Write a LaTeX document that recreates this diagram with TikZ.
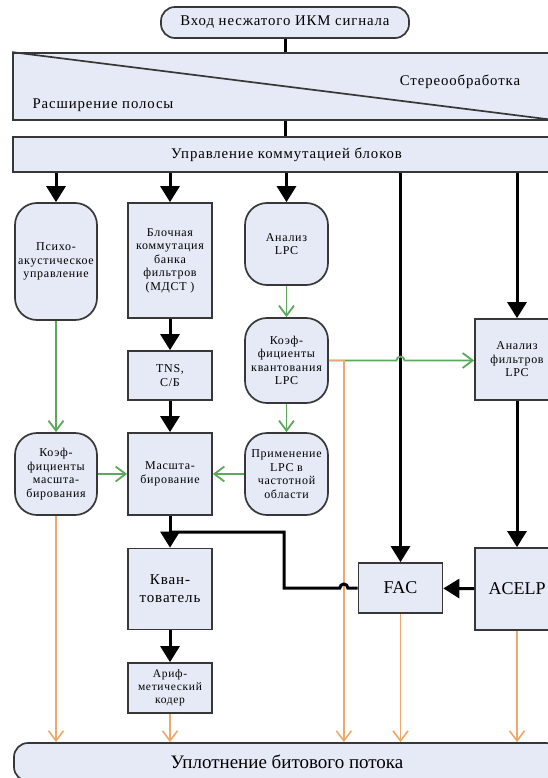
\documentclass[tikz,border=0pt]{standalone}
\usepackage{fontspec}
\setmainfont{Liberation Serif}
\newfontfamily\boxfont[LetterSpace=6]{Liberation Serif}
\usetikzlibrary{arrows.meta,calc}

\definecolor{boxfill}{RGB}{229,234,246}
\definecolor{boxline}{RGB}{55,55,55}
\definecolor{siggreen}{RGB}{92,168,92}
\definecolor{sigorange}{RGB}{238,168,106}

\tikzset{
  blk/.style={draw=boxline, line width=1.7pt, fill=boxfill, inner sep=0pt,
    align=center, font=\boxfont\fontsize{12}{13.5}\selectfont},
  rnd/.style={blk, rounded corners=22pt},
  pill/.style={blk, rounded corners=14pt},
  head/.style={font=\boxfont\fontsize{14.8}{16}\selectfont},
  big/.style={font=\fontsize{18}{20}\selectfont},
  main/.style={line width=3pt, -{Triangle[length=16pt,width=19pt]}},
  mainline/.style={line width=3pt},
  grn/.style={draw=siggreen, line width=1.8pt, -{Straight Barb[length=10pt,width=15pt]}},
  org/.style={draw=sigorange, line width=1.6pt, -{Straight Barb[length=10pt,width=15pt]}},
}

\begin{document}
\begin{tikzpicture}[x=1pt,y=-1pt]
    \useasboundingbox (0,0) rectangle (547,778);
    \node[pill, head, minimum width=248pt, minimum height=31pt] (in) at (285,22.5)
      {Вход несжатого ИКМ сигнала};
    \node[blk, minimum width=547pt, minimum height=67pt] (stereo) at (286.5,86.5) {};
    \draw[boxline, line width=1.7pt] (stereo.north west) -- (stereo.south east);
    \node[head] (stlbl) at (460,82) {Стереообработка};
    \node[head] (bwlbl) at (103,105) {Расширение полосы};
    \node[blk, head, minimum width=547pt, minimum height=35pt] (ctrl) at (286.5,154.5)
      {Управление коммутацией блоков};

    \node[rnd, minimum width=82pt, minimum height=117pt] (psycho) at (56,261.5)
      {Психо-\\акустическое\\управление};
    \node[blk, minimum width=84pt, minimum height=115pt] (block) at (170,260.5)
      {Блочная\\коммутация\\банка\\фильтров\\(МДСТ )};
    \node[rnd, minimum width=83pt, minimum height=82pt] (alpc) at (286.5,244)
      {Анализ\\LPC};
    \node[blk, minimum width=84pt, minimum height=49pt] (tns) at (170,375.5)
      {TNS,\\С/Б};
    \node[rnd, minimum width=83pt, minimum height=85pt] (kkv) at (286.5,360.5)
      {Коэф-\\фициенты\\квантования\\LPC};
    \node[rnd, minimum width=82pt, minimum height=82pt] (kmash) at (56,474)
      {Коэф-\\фициенты\\масшта-\\бирования};
    \node[blk, minimum width=84pt, minimum height=82pt] (mash) at (170,474)
      {Масшта-\\бирование};
    \node[rnd, minimum width=83pt, minimum height=82pt] (prim) at (286.5,474)
      {Применение\\LPC в\\частотной\\области};
    \node[blk, minimum width=84pt, minimum height=81pt] (afl) at (517,359.5)
      {Анализ\\фильтров\\LPC};
    \node[blk, minimum width=84pt, minimum height=81pt,
      font=\boxfont\fontsize{15}{18}\selectfont] (kvant) at (170,589)
      {Кван-\\тователь};
    \node[blk, minimum width=84pt, minimum height=50pt,
      font=\boxfont\fontsize{11.5}{13}\selectfont] (arif) at (170,688)
      {Ариф-\\метический\\кодер};
    \node[blk, big, minimum width=84pt, minimum height=50pt] (fac) at (400.5,588) {FAC};
    \node[blk, big, minimum width=84pt, minimum height=82pt] (acelp) at (517,589) {ACELP};
    \node[pill, minimum width=546pt, minimum height=38pt,
      font=\fontsize{19}{22}\selectfont] (bits) at (287,762)
      {Уплотнение битового потока};

    \coordinate (tap) at ($(kkv.east)+(15,0)$);
    \coordinate (bend) at (284,532);
    \coordinate (jn) at (170,532);

    \draw[mainline] (in.south) -- (in.south |- stereo.north);
    \draw[mainline] (in.south |- stereo.south) -- (in.south |- ctrl.north);
    \draw[main] (psycho |- ctrl.south) -- (psycho);
    \draw[main] (block |- ctrl.south) -- (block);
    \draw[main] (alpc |- ctrl.south) -- (alpc);
    \draw[main] (fac |- ctrl.south) -- (fac);
    \draw[main] (afl |- ctrl.south) -- (afl);
    \draw[main] (block) -- (tns);
    \draw[main] (tns) -- (mash);
    \draw[main] (mash) -- (kvant);
    \draw[main] (kvant) -- (arif);
    \draw[main] (afl) -- (acelp);
    \draw[main] (acelp) -- (fac);

    \draw[grn] (psycho) -- (kmash);
    \draw[grn] (kmash) -- (mash);
    \draw[grn] (prim) -- (mash);
    \draw[grn] (alpc) -- (kkv);
    \draw[grn] (kkv) -- (prim);
    \draw[grn] (kkv.east) -- ($(fac.north |- kkv.east)+(-4,0)$)
      arc[start angle=180, end angle=360, radius=4] -- (afl.west |- kkv.east);

    \draw[org] (kmash) -- (kmash |- bits.north);
    \draw[org] (arif) -- (arif |- bits.north);
    \draw[org] (kkv.east) -- (tap) -- (tap |- bits.north);
    \draw[org] (fac) -- (fac |- bits.north);
    \draw[org] (acelp) -- (acelp |- bits.north);

    \draw[mainline] (fac.west) -- ($(tap |- fac.west)+(4,0)$)
      arc[start angle=0, end angle=-180, radius=4] -- (bend |- fac.west) -- (bend) -- (jn);
\end{tikzpicture}
\end{document}
